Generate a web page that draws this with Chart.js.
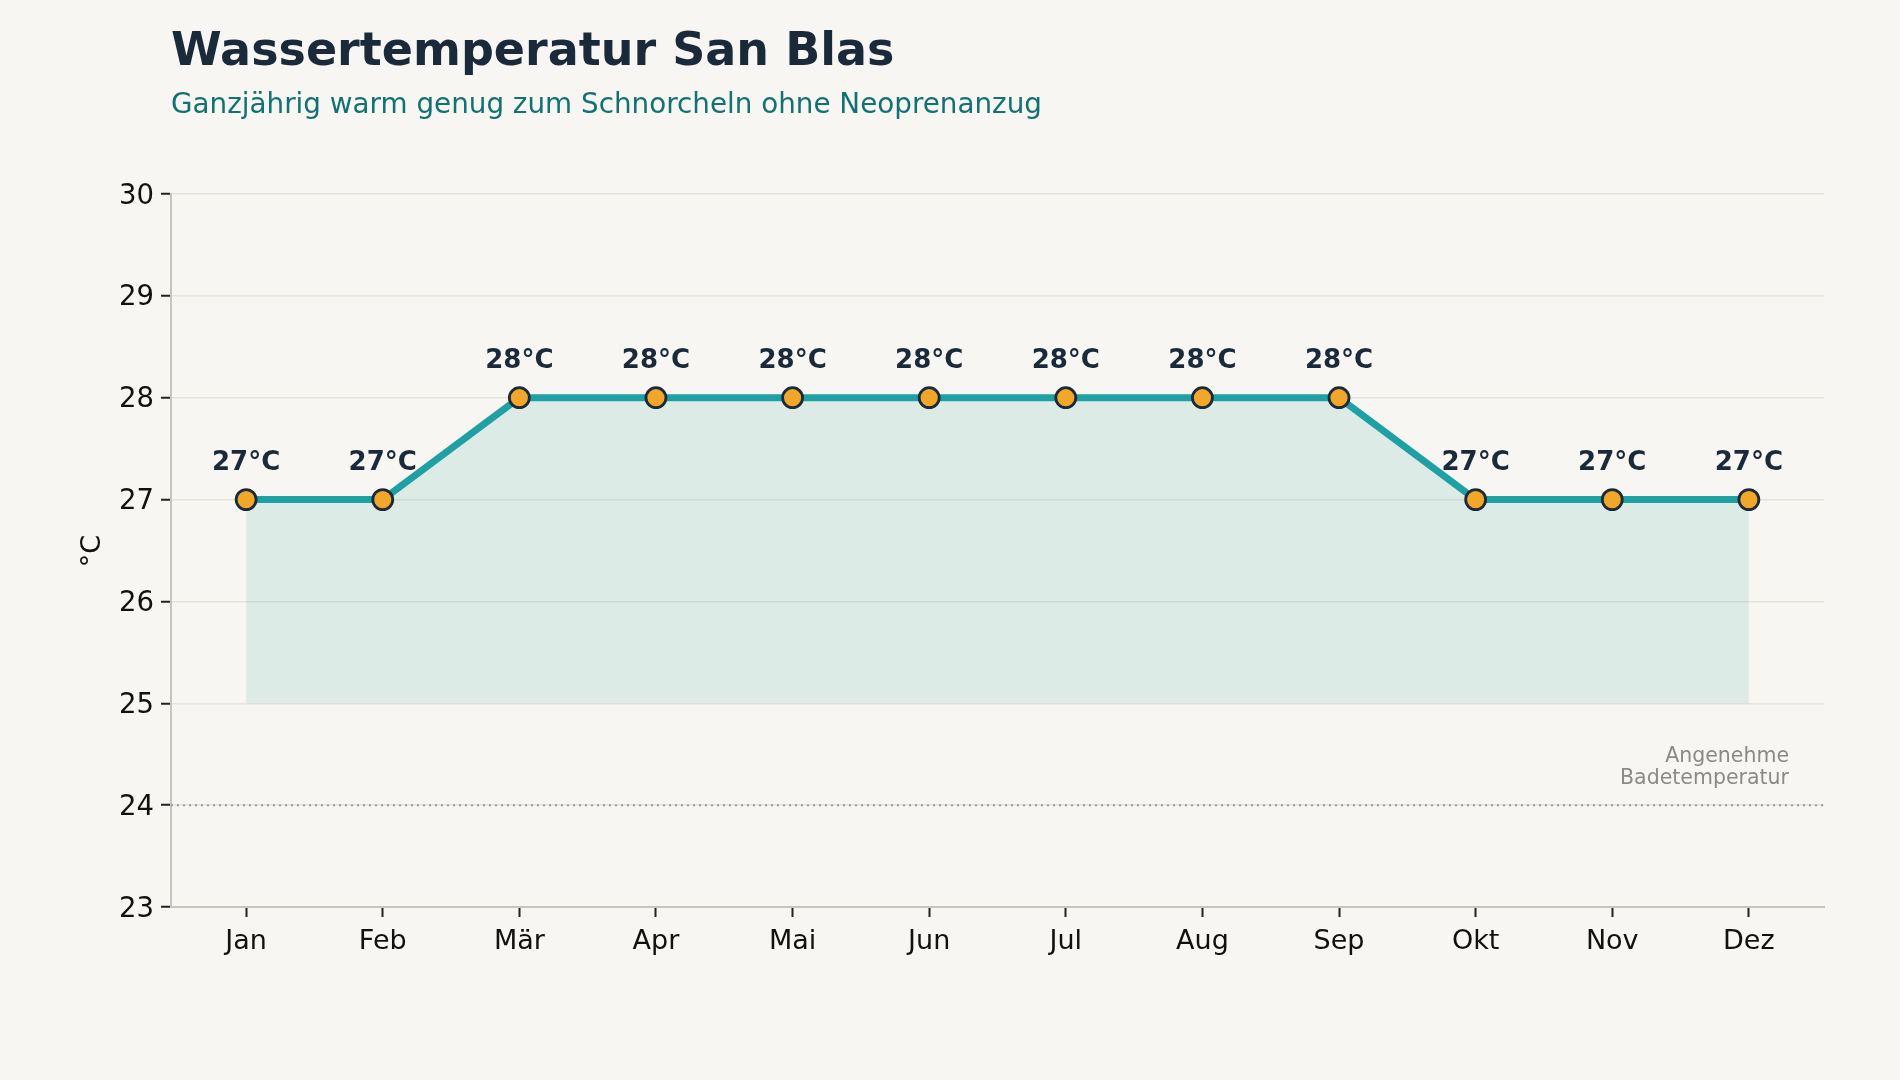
<!DOCTYPE html>
<html>
<head>
    <title>Wassertemperatur San Blas</title>
    <meta charset="utf-8">
    <style>
        body {
            margin: 0;
            padding: 0;
            background-color: #f7f6f2;
        }
        #temp-chart {
            display: block;
        }
    </style>
    <script src="https://cdn.jsdelivr.net/npm/chart.js"></script>
</head>
<body>
    <canvas id="temp-chart" width="1900" height="1080"></canvas>

    <script>
        // Daten
        const months = ['Jan', 'Feb', 'Mär', 'Apr', 'Mai', 'Jun', 'Jul', 'Aug', 'Sep', 'Okt', 'Nov', 'Dez'];
        const waterTemp = [27, 27, 28, 28, 28, 28, 28, 28, 28, 27, 27, 27];
        const yMin = 23;
        const yMax = 30;
        const fillBase = 25;
        const comfortTemp = 24;
        const comfortLabel = ['Angenehme', 'Badetemperatur'];

        const titleText = 'Wassertemperatur San Blas';
        const subtitleText = 'Ganzjährig warm genug zum Schnorcheln ohne Neoprenanzug';

        const FONT = '"DejaVu Sans", Arial, sans-serif';

        const backgroundPlugin = {
            id: 'bg',
            beforeDraw(chart) {
                const ctx = chart.ctx;
                ctx.save();
                ctx.fillStyle = '#f7f6f2';
                ctx.fillRect(0, 0, chart.width, chart.height);
                ctx.restore();
            },
            afterDraw(chart) {
                const ctx = chart.ctx;
                ctx.save();
                ctx.textAlign = 'left';
                ctx.textBaseline = 'alphabetic';
                ctx.fillStyle = '#1b2a3a';
                ctx.font = 'bold 46px ' + FONT;
                ctx.fillText(titleText, 171, 65);
                ctx.fillStyle = '#127272';
                ctx.font = '27.8px ' + FONT;
                ctx.fillText(subtitleText, 171, 113);

                // y-Achsentitel
                ctx.translate(93, 551);
                ctx.rotate(-Math.PI / 2);
                ctx.textAlign = 'center';
                ctx.textBaseline = 'middle';
                ctx.fillStyle = '#111';
                ctx.font = '27px ' + FONT;
                ctx.fillText('°C', 0, 0);
                ctx.restore();
            }
        };

        const refLinePlugin = {
            id: 'refLine',
            beforeDatasetsDraw(chart) {
                const ctx = chart.ctx;
                const area = chart.chartArea;
                const y = chart.scales.y.getPixelForValue(comfortTemp);
                ctx.save();
                ctx.strokeStyle = '#9a9a9a';
                ctx.lineWidth = 2;
                ctx.setLineDash([2, 4]);
                ctx.beginPath();
                ctx.moveTo(area.left, y);
                ctx.lineTo(area.right, y);
                ctx.stroke();
                ctx.setLineDash([]);
                ctx.fillStyle = '#8a8a8a';
                ctx.font = '20.5px ' + FONT;
                ctx.textAlign = 'right';
                ctx.textBaseline = 'alphabetic';
                ctx.fillText(comfortLabel[0], area.right - 35, y - 43);
                ctx.fillText(comfortLabel[1], area.right - 35, y - 21);
                ctx.restore();
            }
        };

        const valueLabelPlugin = {
            id: 'valueLabels',
            afterDatasetsDraw(chart) {
                const ctx = chart.ctx;
                const meta = chart.getDatasetMeta(0);
                ctx.save();
                ctx.fillStyle = '#1b2a3a';
                ctx.font = 'bold 26px ' + FONT;
                ctx.textAlign = 'center';
                ctx.textBaseline = 'alphabetic';
                meta.data.forEach((pt, i) => {
                    ctx.fillText(waterTemp[i] + '°C', pt.x, pt.y - 30);
                });
                ctx.restore();
            }
        };

        const tempChart = new Chart(document.getElementById('temp-chart'), {
            type: 'line',
            data: {
                datasets: [{
                    data: months.map((m, i) => ({ x: i, y: waterTemp[i] })),
                    borderColor: '#1fa0a4',
                    borderWidth: 7,
                    backgroundColor: 'rgba(31,158,145,0.12)',
                    fill: { value: fillBase },
                    tension: 0,
                    pointRadius: 10,
                    pointBorderWidth: 2.8,
                    pointBackgroundColor: '#f2a62a',
                    pointBorderColor: '#1b2a3a',
                    clip: false
                }]
            },
            options: {
                responsive: false,
                devicePixelRatio: 1,
                animation: false,
                layout: { padding: { top: 194, right: 76, left: 0, bottom: 0 } },
                plugins: {
                    legend: { display: false },
                    tooltip: { enabled: false }
                },
                scales: {
                    x: {
                        type: 'linear',
                        min: -0.55,
                        max: 11.55,
                        afterBuildTicks: (axis) => {
                            axis.ticks = months.map((m, i) => ({ value: i }));
                        },
                        afterFit: (scale) => { scale.height = 173; },
                        ticks: {
                            callback: (v) => months[v],
                            color: '#111',
                            font: { family: FONT, size: 27 },
                            padding: 9,
                            maxRotation: 0,
                            autoSkip: false
                        },
                        grid: {
                            drawOnChartArea: false,
                            drawTicks: true,
                            tickLength: 10,
                            tickWidth: 2,
                            tickColor: '#222'
                        },
                        border: { display: true, color: '#c8c5be', width: 2 }
                    },
                    y: {
                        min: yMin,
                        max: yMax,
                        afterFit: (scale) => { scale.width = 171; },
                        ticks: {
                            stepSize: 1,
                            color: '#111',
                            font: { family: FONT, size: 27.5 },
                            padding: 7,
                            labelOffset: 2.5
                        },
                        grid: {
                            color: '#e7e2db',
                            lineWidth: 1.5,
                            drawTicks: true,
                            tickLength: 10,
                            tickWidth: 2,
                            tickColor: '#222'
                        },
                        border: { display: true, color: '#c8c5be', width: 2 }
                    }
                }
            },
            plugins: [backgroundPlugin, refLinePlugin, valueLabelPlugin]
        });
    </script>
</body>
</html>
